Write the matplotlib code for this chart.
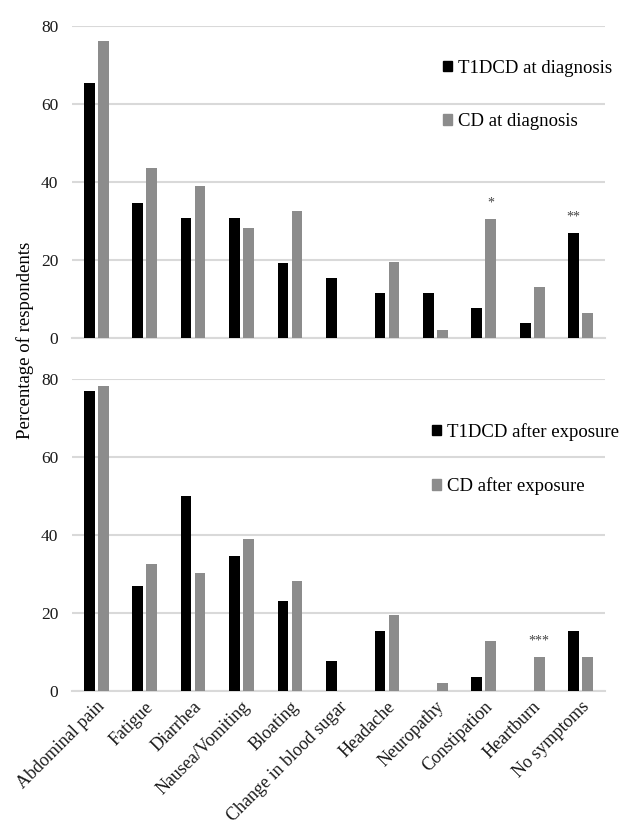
import matplotlib
matplotlib.use("Agg")
import matplotlib.pyplot as plt
import numpy as np
from matplotlib.patches import Patch

plt.rcParams['font.family'] = ['Liberation Serif', 'DejaVu Serif']

symptoms = ['Abdominal pain', 'Fatigue', 'Diarrhea', 'Nausea/Vomiting', 'Bloating',
            'Change in blood sugar', 'Headache', 'Neuropathy', 'Constipation',
            'Heartburn', 'No symptoms']

# percentages at diagnosis
t1dcd_diag = [65.4, 34.6, 30.8, 30.8, 19.2, 15.4, 11.5, 11.5, 7.7, 3.8, 26.9]
cd_diag = [76.1, 43.5, 39.1, 28.3, 32.6, 0, 19.6, 2.2, 30.4, 13.0, 6.5]

# percentages after gluten exposure
t1dcd_exp = [76.9, 26.9, 50.0, 34.6, 23.1, 7.7, 15.4, 0, 3.8, 0, 15.4]
cd_exp = [78.3, 32.6, 30.4, 39.1, 28.3, 0, 19.6, 2.2, 13.0, 8.7, 8.7]

# significance marks: (category index, series, text)
marks_diag = [(8, 'cd', '*'), (10, 't1', '**')]
marks_exp = [(9, 'cd', '***')]

BLACK = '#000000'
GREY = '#8c8c8c'
GRID = '#d9d9d9'

fig = plt.figure(figsize=(6.21, 8.33), dpi=100)
ax_top = fig.add_axes([0.116, 0.594, 0.858, 0.375])
ax_bot = fig.add_axes([0.116, 0.170, 0.858, 0.375])

x = np.arange(len(symptoms))
w = 0.22
off = 0.145


def draw_panel(ax, black_vals, grey_vals, marks, labels, legend_xy):
    ax.bar(x - off, black_vals, w, color=BLACK, zorder=3)
    ax.bar(x + off, grey_vals, w, color=GREY, zorder=3)
    ax.set_xlim(-0.5, len(symptoms) - 0.5)
    ax.set_ylim(0, 80)
    ax.set_yticks([0, 20, 40, 60, 80])
    ax.yaxis.grid(True, color=GRID, linewidth=1.5, zorder=0)
    ax.set_axisbelow(True)
    for s in ['top', 'right', 'left']:
        ax.spines[s].set_visible(False)
    ax.spines['bottom'].set_color(GRID)
    ax.spines['bottom'].set_linewidth(1.5)
    ax.tick_params(axis='both', length=0, labelsize=12.5, colors='#1a1a1a')
    ax.tick_params(axis='y', pad=10)
    for i, series, txt in marks:
        if series == 'cd':
            xpos, val = x[i] + off, grey_vals[i]
        else:
            xpos, val = x[i] - off, black_vals[i]
        ax.text(xpos, val + 2.5, txt, ha='center', va='bottom', fontsize=10, color='#444444')
    handles = [Patch(color=BLACK), Patch(color=GREY)]
    ax.legend(handles, labels, loc='center left', bbox_to_anchor=legend_xy,
              bbox_transform=fig.transFigure, frameon=False, fontsize=13.5,
              handlelength=0.5, handleheight=0.5, handletextpad=0.3,
              labelspacing=1.95, borderpad=0, borderaxespad=0)


draw_panel(ax_top, t1dcd_diag, cd_diag, marks_diag,
           ['T1DCD at diagnosis', 'CD at diagnosis'], (0.713, 0.886))
draw_panel(ax_bot, t1dcd_exp, cd_exp, marks_exp,
           ['T1DCD after exposure', 'CD after exposure'], (0.695, 0.449))

ax_top.set_xticks(x)
ax_top.set_xticklabels([])
ax_bot.set_xticks(x)
ax_bot.set_xticklabels(symptoms, rotation=45, ha='right', rotation_mode='anchor', fontsize=13)
ax_bot.tick_params(axis='x', pad=5)

fig.text(0.04, 0.591, 'Percentage of respondents', rotation=90, ha='center', va='center',
         fontsize=13.5)

fig.savefig('out.png', dpi=100)
